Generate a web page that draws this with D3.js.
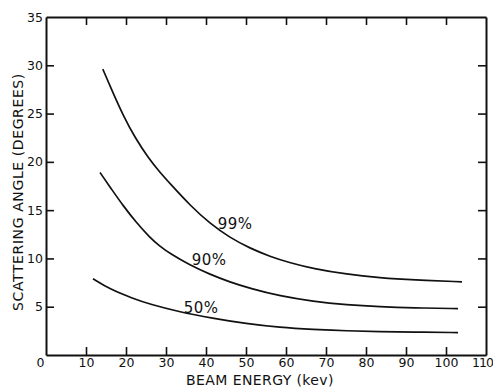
<!DOCTYPE html>
<html>
<head>
<meta charset="utf-8">
<script src="https://cdn.jsdelivr.net/npm/d3@7"></script>
<style>
  html, body { margin: 0; padding: 0; background: #fff; }
  svg { display: block; }
  text { font-family: "DejaVu Sans", sans-serif; fill: #111; }
</style>
</head>
<body>
<svg id="chart" width="493" height="390"></svg>
<script>
// ---- data ----
const xTicks = [0, 10, 20, 30, 40, 50, 60, 70, 80, 90, 100, 110];
const yTicks = [5, 10, 15, 20, 25, 30, 35];

const energy99 = [14.2, 16.7, 19.3, 22.4, 25.6, 28.3, 31, 36, 41, 46, 51, 56, 61, 66.75, 75.2, 83.5, 91.8, 104];
const angle99  = [29.6, 27.2, 24.8, 22.4, 20.4, 19.0, 17.75, 15.5, 13.6, 12.15, 11.05, 10.2, 9.55, 8.95, 8.35, 8.0, 7.78, 7.58];

const energy90 = [13.5, 16.5, 19.3, 22.5, 26, 28.5, 31, 36, 41, 46, 51, 58.5, 66.75, 75.2, 83.5, 91.8, 103];
const angle90  = [18.9, 17.1, 15.45, 13.75, 12.15, 11.25, 10.5, 9.3, 8.35, 7.55, 6.9, 6.1, 5.55, 5.2, 5.0, 4.88, 4.8];

const energy50 = [11.75, 16, 21.8, 26, 33, 41.75, 50, 58.5, 66.75, 75.2, 83.5, 91.8, 103];
const angle50  = [7.9, 6.8, 5.85, 5.25, 4.5, 3.8, 3.25, 2.85, 2.65, 2.5, 2.42, 2.37, 2.32];

const seriesLabels = ["99%", "90%", "50%"];
const labelEnergy  = [47.3, 40.8, 38.8];
const labelAngle   = [13.6, 9.85, 4.9];

// ---- layout ----
const svg = d3.select("#chart");
const x = d3.scaleLinear().domain([0, 110]).range([46, 486]);
const y = d3.scaleLinear().domain([0, 35]).range([355, 17]);

const tickLen = 8;

// axes
const gB = svg.append("g").attr("transform", `translate(0,${y(0)})`)
  .call(d3.axisBottom(x).tickValues(xTicks).tickSize(-tickLen).tickSizeOuter(0).tickPadding(3).tickFormat(d3.format("d")));
const gL = svg.append("g").attr("transform", `translate(${x(0)},0)`)
  .call(d3.axisLeft(y).tickValues(yTicks).tickSize(-tickLen).tickSizeOuter(0).tickPadding(3).tickFormat(d3.format("d")));
const gT = svg.append("g").attr("transform", `translate(0,${y(35)})`)
  .call(d3.axisTop(x).tickValues(xTicks.slice(1, -1)).tickSize(-tickLen).tickSizeOuter(0).tickFormat(""));
const gR = svg.append("g").attr("transform", `translate(${x(110)},0)`)
  .call(d3.axisRight(y).tickValues(yTicks.slice(0, -1)).tickSize(-tickLen).tickSizeOuter(0).tickFormat(""));

[gB, gL, gT, gR].forEach(g => {
  g.select(".domain").attr("stroke", "#111").attr("stroke-width", 2);
  g.selectAll(".tick line").attr("stroke", "#111").attr("stroke-width", 1.6);
  g.selectAll(".tick text").attr("font-size", 12.5).attr("font-family", "Liberation Sans, Arial, sans-serif").attr("fill", "#111");
});
// hide the ticks that fall on the frame corners
gB.selectAll(".tick").filter(d => d === 0 || d === 110).select("line").remove();
gL.selectAll(".tick").filter(d => d === 35).select("line").remove();
// origin label sits left of the axis; last label kept inside the page
gB.selectAll(".tick").filter(d => d === 0).select("text").attr("dx", -6);
gB.selectAll(".tick").filter(d => d === 110).select("text").attr("dx", -4).attr("letter-spacing", -1);

// curves
const line = d3.line().x(d => x(d[0])).y(d => y(d[1])).curve(d3.curveBasis);
const curves = [
  d3.zip(energy99, angle99),
  d3.zip(energy90, angle90),
  d3.zip(energy50, angle50)
];
svg.append("g").selectAll("path").data(curves).join("path")
  .attr("d", line)
  .attr("fill", "none")
  .attr("stroke", "#111")
  .attr("stroke-width", 1.7);

// curve labels
svg.append("g").selectAll("text").data(seriesLabels).join("text")
  .attr("x", (d, i) => x(labelEnergy[i]))
  .attr("y", (d, i) => y(labelAngle[i]))
  .attr("text-anchor", "middle")
  .attr("dy", "0.36em")
  .attr("font-size", 15)
  .attr("letter-spacing", 0.5)
  .text(d => d);

// axis titles
svg.append("text")
  .attr("x", 260).attr("y", 385)
  .attr("text-anchor", "middle")
  .attr("font-size", 14)
  .attr("letter-spacing", 0.4)
  .text("BEAM ENERGY (kev)");

svg.append("text")
  .attr("transform", "translate(23,192) rotate(-90)")
  .attr("text-anchor", "middle")
  .attr("font-size", 14)
  .attr("letter-spacing", 0.6)
  .text("SCATTERING ANGLE (DEGREES)");
</script>
</body>
</html>
